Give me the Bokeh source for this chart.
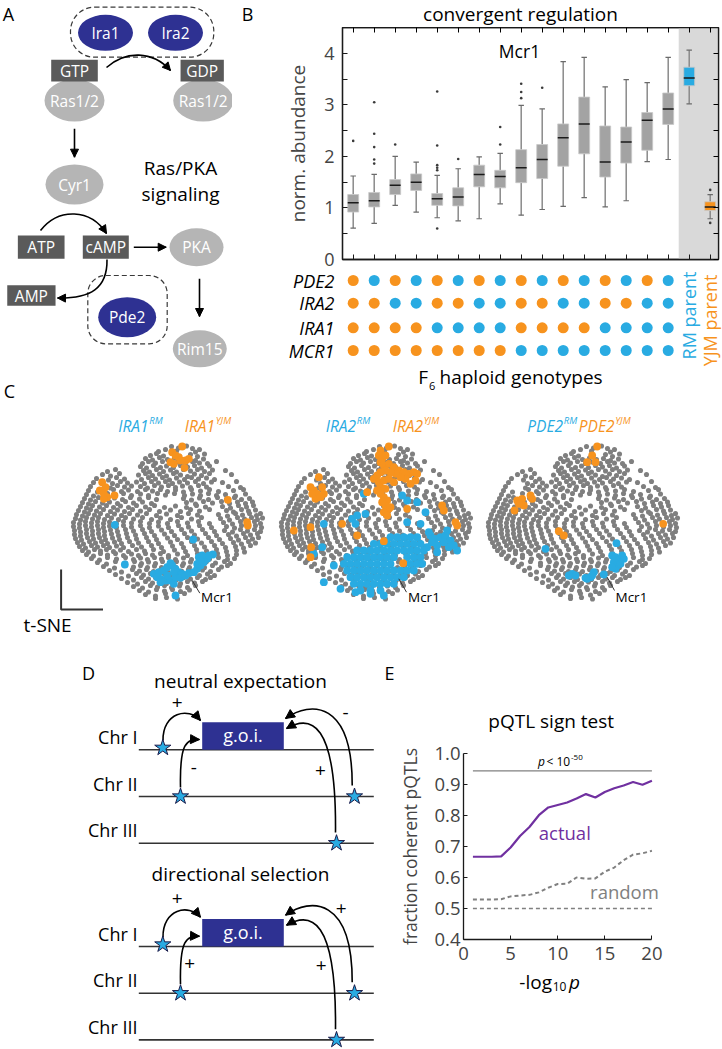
import math
from bokeh.plotting import figure
from bokeh.models import Range1d, Arrow, NormalHead, FixedTicker, LinearAxis, BoxAnnotation
from bokeh.layouts import row, column
from bokeh.embed import file_html
from bokeh.resources import INLINE
from bokeh.core.properties import value

# ======================= DATA =======================
# Panel B: Mcr1 abundance per F6 genotype class (16) + RM parent + YJM parent
BOX_POS = list(range(1, 19))
BOX_GROUP = ["F6"] * 16 + ["RM", "YJM"]
BOX_MED = [1.10, 1.14, 1.44, 1.50, 1.18, 1.21, 1.65, 1.61, 1.78, 1.94, 2.36, 2.63, 1.89, 2.28, 2.70, 2.92, 3.52, 1.02]
BOX_Q1 = [0.92, 1.02, 1.26, 1.34, 1.05, 1.04, 1.41, 1.39, 1.49, 1.57, 1.81, 2.05, 1.60, 1.87, 2.12, 2.62, 3.37, 0.95]
BOX_Q3 = [1.26, 1.30, 1.55, 1.66, 1.28, 1.39, 1.83, 1.73, 2.13, 2.23, 2.63, 3.15, 2.59, 2.57, 2.85, 3.23, 3.73, 1.12]
WHISK_LO = [0.61, 0.70, 1.05, 0.92, 0.81, 0.75, 0.79, 1.08, 0.86, 0.97, 1.03, 1.20, 1.02, 1.14, 1.90, 1.94, 3.02, 0.79]
WHISK_HI = [1.62, 1.65, 2.00, 1.89, 1.63, 1.76, 1.99, 2.06, 2.99, 2.92, 3.84, 3.92, 3.35, 3.49, 3.43, 3.92, 4.06, 1.26]
OUT_X = [1, 2, 2, 2, 2, 2, 3, 5, 5, 5, 5, 5, 5, 6, 8, 8, 9, 9, 9, 10, 18, 18]
OUT_Y = [2.30, 3.05, 2.44, 2.18, 1.94, 1.86, 2.23, 3.26, 2.21, 1.83, 1.78, 1.73, 0.60, 1.95, 2.57, 2.23,
         3.41, 3.25, 3.13, 3.33, 1.35, 0.71]
Y_TICKS = [0, 1, 2, 3, 4]
Y_MINOR = [0.5, 1.5, 2.5, 3.5]
GENO_NAMES = ["PDE2", "IRA2", "IRA1", "MCR1"]
GENO_PDE2 = list("YRYRYRYRYRYRYRYR")
GENO_IRA2 = list("YYRRYYRRYYRRYYRR")
GENO_IRA1 = list("YYYYRRRRYYYYRRRR")
GENO_MCR1 = list("YYYYYYYYRRRRRRRR")

# Panel E: pQTL sign test
E_X = list(range(1, 21))
ACTUAL = [0.667, 0.667, 0.667, 0.668, 0.697, 0.734, 0.763, 0.801, 0.826, 0.834, 0.842, 0.855, 0.869, 0.858,
          0.876, 0.888, 0.897, 0.908, 0.899, 0.912]
RANDOM = [0.529, 0.529, 0.529, 0.530, 0.539, 0.542, 0.544, 0.552, 0.567, 0.579, 0.580, 0.600, 0.596, 0.597,
          0.619, 0.632, 0.656, 0.674, 0.678, 0.686]
CHANCE = 0.5
SIGNIF_LEVEL = 0.944
E_XTICKS = [0, 5, 10, 15, 20]
E_YTICKS = [0.4, 0.5, 0.6, 0.7, 0.8, 0.9, 1.0]

# Panel C: t-SNE embedding, grey cloud (cloud-1 coordinates)
TSNE_PTS = [
    (171, 446), (178, 447.5), (186, 445.5), (192, 448),
    (158, 451), (165, 449), (176, 450.5), (195, 451.5), (199, 449),
    (150, 455), (156, 453), (163, 455.5), (190, 454), (197, 456), (204, 453.5),
    (145, 458), (152, 459.5), (159, 457), (167, 459), (174, 457.5), (181, 459), (188, 458), (195, 460), (203, 458.5),
    (142, 463), (148, 461), (155, 462.5), (162, 461), (170, 463), (177, 461.5), (185, 463), (192, 461), (199, 462.5),
    (207, 463), (216, 461),
    (140, 466), (146, 467.5), (153, 465), (160, 467), (166, 465.5), (173, 467), (180, 465), (187, 466.5), (194, 465),
    (201, 467.5), (209, 465.5),
    (107, 471), (115, 469), (143, 470), (149, 471.5), (156, 469), (163, 471), (170, 469.5), (176, 471.5), (183, 469),
    (190, 470.5), (197, 469), (204, 471), (212, 469.5), (225, 470),
    (102, 474), (110, 475.5), (119, 473), (138, 474.5), (145, 473), (152, 475), (159, 473.5), (166, 475.5),
    (173, 473), (180, 474.5), (187, 476), (194, 473.5), (201, 475), (209, 473), (231, 474),
    (96, 478), (108, 479.5), (116, 477), (124, 478.5), (141, 479), (148, 477), (155, 478.5), (162, 477),
    (169, 479.5), (176, 477.5), (184, 479), (191, 477), (198, 478.5), (206, 477.5), (214, 479),
    (93, 482), (112, 483), (120, 481), (127, 482.5), (136, 481.5), (144, 483), (151, 481), (158, 482.5), (165, 481),
    (172, 483), (179, 481.5), (187, 482.5), (195, 481), (203, 483), (211, 481.5), (222, 482), (236, 481),
    (90, 486), (110, 487.5), (117, 485), (124, 486.5), (131, 485.5), (140, 486), (147, 487.5), (154, 485),
    (161, 486.5), (168, 485), (175, 487), (182, 485.5), (190, 487), (198, 485), (206, 486.5), (228, 486), (240, 487),
    (88, 490), (97, 491.5), (113, 489), (121, 491), (128, 489.5), (137, 491), (145, 489), (152, 490.5), (160, 489),
    (167, 491), (175, 489.5), (183, 491.5), (191, 489), (200, 490.5), (209, 489), (218, 491), (233, 490), (243, 489),
    (86, 494), (93, 495.5), (107, 493), (115, 494.5), (123, 493), (131, 495), (140, 493.5), (148, 495), (157, 493),
    (165, 494.5), (174, 493), (184, 495), (192, 493.5), (200, 495), (208, 493), (216, 495), (225, 494),
    (235, 495.5), (245, 493.5),
    (84, 498), (90, 499.5), (98, 497), (106, 498.5), (114, 497.5), (122, 499), (130, 497), (139, 498.5), (148, 497),
    (156, 499), (183, 498), (191, 499.5), (199, 497.5), (208, 499), (217, 497), (226, 498.5), (234, 497),
    (241, 499), (249, 498),
    (82, 502), (88, 503.5), (95, 501), (102, 502.5), (109, 501.5), (117, 503), (125, 501), (133, 502.5),
    (142, 501.5), (151, 503), (186, 502), (195, 503.5), (203, 501), (212, 502.5), (221, 501), (229, 503),
    (237, 501.5), (245, 503), (252, 501.5),
    (80, 506), (86, 507.5), (92, 505), (99, 506.5), (106, 505), (113, 507), (120, 505.5), (128, 507), (136, 505),
    (145, 506.5), (154, 505), (164, 507), (175, 505.5), (186, 507), (196, 505), (205, 506.5), (222, 506),
    (230, 507.5), (238, 505), (246, 506.5), (253, 505),
    (78, 510), (84, 511.5), (90, 509), (96, 510.5), (103, 509), (110, 511), (117, 509.5), (124, 511), (132, 509),
    (140, 510.5), (149, 509), (159, 511), (170, 509.5), (180, 511), (190, 509), (199, 510.5), (209, 509),
    (226, 510), (233, 511.5), (241, 509), (248, 510.5), (255, 509.5),
    (76, 514), (82, 515.5), (88, 513), (94, 514.5), (100, 513), (107, 515), (114, 513.5), (121, 515), (129, 513),
    (137, 514.5), (146, 513), (156, 515), (166, 513.5), (177, 515), (188, 513), (197, 514.5), (218, 514),
    (227, 515.5), (235, 513), (242, 514.5), (249, 513), (256, 515), (260, 513),
    (75, 518), (80, 519.5), (86, 517), (92, 518.5), (98, 517), (104, 519), (111, 517.5), (118, 519), (125, 517),
    (133, 518.5), (142, 517), (151, 519), (160, 517.5), (170, 519), (181, 517), (191, 518.5), (201, 517),
    (220, 518), (229, 519.5), (237, 517), (244, 518.5), (251, 517), (257, 519), (262, 517.5),
    (73, 522), (79, 523.5), (85, 521), (91, 522.5), (97, 521), (103, 523), (109, 521.5), (116, 523), (123, 521),
    (131, 522.5), (140, 521), (149, 523), (158, 521.5), (167, 523), (177, 521), (187, 522.5), (198, 521),
    (209, 523), (223, 522), (232, 523.5), (240, 521), (247, 522.5), (254, 521), (260, 523),
    (73, 526), (79, 527.5), (85, 525), (91, 526.5), (97, 525), (103, 527), (109, 525.5), (116, 527), (123, 525),
    (131, 526.5), (140, 525), (149, 527), (158, 525.5), (168, 527), (178, 525), (188, 526.5), (199, 525),
    (211, 527), (226, 526), (234, 527.5), (241, 525), (248, 526.5), (255, 525), (261, 527),
    (74, 530), (80, 531.5), (86, 529), (92, 530.5), (98, 529), (104, 531), (110, 529.5), (117, 531), (125, 529),
    (133, 530.5), (142, 529), (151, 531), (161, 529.5), (171, 531), (181, 529), (191, 530.5), (202, 529),
    (214, 531), (224, 530), (232, 531.5), (240, 529), (247, 530.5), (254, 529), (260, 531),
    (74, 534), (80, 535.5), (86, 533), (92, 534.5), (98, 533), (104, 535), (111, 533.5), (118, 535), (126, 533),
    (135, 534.5), (144, 533), (154, 535), (164, 533.5), (174, 535), (184, 533), (194, 534.5), (205, 533),
    (216, 535), (228, 534), (236, 535.5), (243, 533), (250, 534.5), (257, 533),
    (75, 538), (81, 539.5), (87, 537), (93, 538.5), (99, 537), (105, 539), (112, 537.5), (119, 539), (127, 537),
    (136, 538.5), (146, 537), (156, 539), (167, 537.5), (177, 539), (187, 537), (197, 538.5), (208, 537),
    (219, 539), (230, 538), (238, 539.5), (245, 537), (252, 538.5), (258, 537),
    (77, 542), (83, 543.5), (89, 541), (95, 542.5), (101, 541), (107, 543), (114, 541.5), (121, 543), (129, 541),
    (138, 542.5), (148, 541), (158, 543), (170, 541.5), (181, 543), (191, 541), (201, 542.5), (211, 541),
    (222, 543), (233, 542), (241, 543.5), (248, 541), (255, 542.5),
    (79, 546), (85, 547.5), (91, 545), (97, 546.5), (103, 545), (109, 547), (116, 545.5), (123, 547), (132, 545),
    (141, 546.5), (151, 545), (161, 547), (172, 545.5), (183, 547), (194, 545), (204, 546.5), (214, 545),
    (225, 547), (235, 546), (243, 547.5), (250, 545),
    (82, 550), (88, 551.5), (94, 549), (100, 550.5), (106, 549), (113, 551), (120, 549.5), (128, 551), (136, 549),
    (144, 550.5), (153, 549), (163, 551), (174, 549.5), (185, 551), (196, 549), (206, 550.5), (216, 549),
    (226, 551), (236, 550), (244, 551.5),
    (86, 554), (93, 555.5), (100, 553), (107, 554.5), (115, 553), (123, 555), (131, 553.5), (138, 555), (145, 553),
    (152, 554.5), (160, 553), (168, 555), (177, 553.5), (187, 555), (197, 553), (207, 554.5), (217, 553),
    (227, 555), (236, 554),
    (91, 558), (99, 559.5), (107, 557), (116, 558.5), (125, 557), (133, 559), (140, 557.5), (147, 559), (154, 557),
    (161, 558.5), (168, 557), (175, 559), (183, 557.5), (191, 559), (200, 557), (209, 558.5), (218, 557),
    (227, 559), (234, 558),
    (97, 562), (106, 563.5), (115, 561), (125, 562.5), (134, 561), (141, 563), (148, 561.5), (155, 563), (162, 561),
    (169, 562.5), (176, 561), (183, 563), (190, 561.5), (198, 563), (206, 561), (215, 562.5), (224, 561), (230, 563),
    (103, 566), (114, 567.5), (125, 565), (133, 566.5), (140, 565), (147, 567), (154, 565.5), (161, 567), (168, 565),
    (175, 566.5), (182, 565), (189, 567), (196, 565.5), (204, 567), (212, 565), (221, 566.5), (227, 565),
    (109, 570), (121, 571.5), (132, 569), (139, 570.5), (146, 569), (153, 571), (160, 569.5), (167, 571), (174, 569),
    (181, 570.5), (188, 569), (195, 571), (202, 569.5), (210, 571), (218, 569),
    (115, 574), (128, 575.5), (136, 573), (143, 574.5), (150, 573), (157, 575), (164, 573.5), (171, 575), (178, 573),
    (185, 574.5), (192, 573), (199, 575), (207, 573.5), (214, 575),
    (121, 578), (133, 579.5), (141, 577), (148, 578.5), (155, 577), (162, 579), (169, 577.5), (176, 579), (183, 577),
    (190, 578.5), (197, 577), (205, 579), (210, 577),
    (127, 582), (137, 583.5), (145, 581), (152, 582.5), (159, 581), (166, 583), (173, 581.5), (180, 583), (187, 581),
    (194, 582.5), (202, 581),
    (133, 586), (142, 587.5), (150, 585), (157, 586.5), (164, 585), (171, 587), (179, 585.5), (187, 587), (195, 585),
    (139, 590), (148, 591.5), (156, 589), (164, 590.5), (172, 589), (180, 591), (189, 589.5),
    (145, 594), (155, 595.5), (165, 593), (175, 594.5), (184, 593),
    (155, 598), (166, 597), (177, 598.5),
]
# highlighted strains (t-SNE coords, 3x local units per panel)
ORANGE_1 = [(365, 18), (335, 35), (345, 45), (355, 50), (330, 65), (340, 70), (360, 60), (375, 60), (385, 55),
            (372, 82), (125, 125), (135, 140), (118, 150), (130, 160), (140, 170), (130, 175), (162, 165),
            (502, 178), (560, 245), (562, 255)]
BLUE_1 = [(163, 253), (398, 297), (193, 372), (457, 342), (345, 465), (280, 400), (295, 395), (310, 390),
          (320, 380), (335, 375), (345, 385), (355, 395), (365, 400), (300, 415), (315, 420), (330, 420),
          (345, 410), (360, 412), (375, 405), (290, 410), (320, 405), (340, 395), (385, 398), (400, 395),
          (410, 385), (420, 375), (430, 365), (440, 355), (415, 350), (425, 345), (445, 345), (410, 370),
          (420, 360), (300, 425), (340, 430), (330, 368)]
ORANGE_2 = [(325, 18), (300, 30), (295, 45), (305, 55), (315, 45), (300, 65), (310, 75), (325, 70), (340, 80),
            (355, 90), (370, 95), (385, 100), (400, 95), (410, 100), (405, 120), (390, 130), (375, 115),
            (360, 110), (345, 100), (330, 95), (315, 90), (300, 95), (290, 105), (280, 115), (295, 125),
            (310, 120), (325, 115), (340, 125), (300, 140), (315, 145), (290, 150), (300, 160), (310, 170),
            (320, 180), (315, 195), (325, 205), (310, 215), (320, 225), (330, 200), (305, 185), (260, 155),
            (380, 205), (485, 195), (490, 210), (525, 245), (530, 255), (115, 110), (90, 140), (100, 150),
            (110, 160), (125, 140), (130, 160), (105, 175), (95, 160), (120, 170), (40, 270), (90, 260),
            (92, 320), (90, 350), (185, 250), (230, 285), (310, 302), (368, 368)]
BLUE_2 = [(130, 250), (125, 320), (100, 340), (160, 375), (130, 425), (180, 445), (225, 455), (270, 460),
          (310, 465), (250, 160), (215, 235), (230, 225), (255, 220), (225, 250), (380, 180), (410, 185),
          (435, 215), (380, 245), (420, 250), (365, 165), (450, 285), (465, 295), (480, 290), (495, 285),
          (510, 300), (520, 315), (505, 320), (490, 305), (470, 315), (455, 305), (445, 275), (500, 270),
          (530, 330), (470, 335), (440, 320)]
BLUE_2_ROWS = [
    (290, [330, 350, 370, 390, 410]),
    (310, [280, 300, 320, 340, 360, 380, 400, 420]),
    (330, [230, 250, 270, 290, 310, 330, 350, 370, 390, 410, 430]),
    (350, [200, 220, 240, 260, 280, 300, 320, 340, 380, 400, 420]),
    (370, [190, 210, 230, 250, 270, 290, 310, 330, 390, 410, 425]),
    (390, [200, 220, 240, 260, 280, 300, 320, 340, 360, 380, 400]),
    (410, [210, 230, 250, 270, 290, 310, 330, 350, 370]),
    (430, [220, 240, 260, 280, 300, 320, 340]),
    (450, [240, 270, 300]),
]
ORANGE_3 = [(320, 18), (305, 45), (290, 65), (315, 65), (80, 180), (95, 175), (100, 195), (85, 190), (120, 165),
            (125, 175), (72, 210), (205, 272), (220, 285), (518, 250)]
BLUE_3 = [(165, 325), (378, 308), (365, 345), (375, 350), (385, 360), (395, 345), (400, 355), (370, 365),
          (380, 375), (375, 385), (365, 380), (390, 370), (340, 402), (310, 395), (300, 410), (290, 415),
          (305, 405), (245, 400), (255, 405), (235, 405), (285, 412)]

# ======================= STYLE =======================
FONT = "Open Sans"
NAVY = "#2e3192"
BLUE = "#29abe2"
ORANGE = "#f7931e"
DARKBOX = "#5a5a5a"
LIGHTELL = "#b5b5b5"
GREY = "#808080"
PURPLE = "#7030a0"
INK = "#1a1a1a"


def fs(v):
    return f"{v:.1f}px"


def no_align(p):
    try:
        p.frame_align = False
    except Exception:
        pass
    return p


def canvas(w, h, x0, y0):
    p = figure(width=w, height=h, x_range=Range1d(x0, x0 + w), y_range=Range1d(y0 + h, y0),
               output_backend="svg", toolbar_location=None, x_axis_type=None, y_axis_type=None, min_border=0)
    p.outline_line_color = None
    p.background_fill_color = "white"
    p.border_fill_color = "white"
    return no_align(p)


def txt(p, x, y, t, size, color="black", align="center", baseline="middle", style="normal", angle=0.0):
    p.text(x=[x], y=[y], text=[t], text_font=value(FONT), text_font_size=value(fs(size)), text_color=color,
           text_align=align, text_baseline=baseline, text_font_style=style, angle=angle)


def head(p, xs, ys, xe, ye, size=8.0):
    d = math.hypot(xe - xs, ye - ys)
    ux, uy = (xe - xs) / d, (ye - ys) / d
    p.add_layout(Arrow(end=NormalHead(size=size, fill_color="black", line_color="black", line_width=1),
                       x_start=xe - ux * 0.6, y_start=ye - uy * 0.6, x_end=xe, y_end=ye,
                       line_color="black", line_width=1))


def curve(p, P0, P1, P2, P3, w=1.6, size=8.0):
    p.bezier(x0=[P0[0]], y0=[P0[1]], x1=[P3[0]], y1=[P3[1]], cx0=[P1[0]], cy0=[P1[1]],
             cx1=[P2[0]], cy1=[P2[1]], line_color="black", line_width=w)
    head(p, P2[0], P2[1], P3[0], P3[1], size)


def straight(p, x0, y0, x1, y1, w=1.6, size=8.0):
    p.segment(x0=[x0], y0=[y0], x1=[x1], y1=[y1], line_color="black", line_width=w)
    head(p, x0, y0, x1, y1, size)


def dashed_box(p, l, r, t, b, radius):
    kw = dict(left=[l], right=[r], top=[t], bottom=[b], fill_color=None, line_color="#3a3a3a",
              line_dash="5 3", line_width=1.2)
    try:
        p.quad(border_radius=radius, **kw)
    except Exception:
        p.quad(**kw)


# ======================= PANEL A (+ "C" label) =======================
TOP_H = 404
A = canvas(232, TOP_H, 0, 0)
txt(A, 8, 13, "A", 18)
txt(A, 9, 390, "C", 18)
dashed_box(A, 70, 213.3, 6.7, 56.7, 24)
dashed_box(A, 87.3, 166.7, 275, 343.3, 18)
A.ellipse(x=[74, 202.7, 74, 196, 199.3], y=[100, 100, 184, 246.7, 348.3], width=[60, 60, 58, 54, 54],
          height=[42, 42, 40, 38, 37], fill_color=LIGHTELL, line_color=None)
A.ellipse(x=[105, 175, 126.7], y=[32.3, 32.3, 316.7], width=[55, 55, 58], height=[36, 36, 40],
          fill_color=NAVY, line_color=None)
A.rect(x=[74, 201.7, 40.7, 105.3, 30.9], y=[70.2, 70.2, 246.7, 246.7, 295],
       width=[46.6, 43.3, 46.7, 46, 48.3], height=[21.7, 21.7, 23.3, 23.3, 20.5],
       fill_color=DARKBOX, line_color=None)
for (x, y, t) in [(105, 32.3, "Ira1"), (175, 32.3, "Ira2"), (74, 70.2, "GTP"), (201.7, 70.2, "GDP"),
                  (74, 100, "Ras1/2"), (202.7, 100, "Ras1/2"), (74, 184, "Cyr1"), (40.7, 246.7, "ATP"),
                  (105.3, 246.7, "cAMP"), (196, 246.7, "PKA"), (30.9, 295, "AMP"), (126.7, 316.7, "Pde2"),
                  (199.3, 348.3, "Rim15")]:
    txt(A, x, y, t, 15.5, color="white")
txt(A, 180, 167, "Ras/PKA", 19)
txt(A, 180, 193.5, "signaling", 19)
curve(A, (106, 67), (125, 50), (152, 50), (170, 70))
curve(A, (40, 230), (58, 207), (90, 208), (106, 233))
curve(A, (106.5, 259), (107, 288), (90, 298), (57, 297.5))
straight(A, 74, 128.3, 74, 156.7)
straight(A, 133.3, 246.7, 165.7, 246.7)
straight(A, 199, 278.3, 199, 316)

# ======================= PANEL B =======================
BW = 490
BT_H = 27
BH = 241
GH = TOP_H - BT_H - BH
BL, BR, BTOP, BBOT = 110, 4, 0, 9
UB = 21.0
XS0 = 1 - (352.7 - (232 + BL)) / UB
XE0 = XS0 + (BW - BL - BR) / UB
Y_TOP = 4.5
PXY = (BH - BTOP - BBOT) / Y_TOP


def bx(refx):
    return XS0 + (refx - (232 + BL)) / UB


def by(refy):
    return (259 - refy) / PXY


BTi = canvas(BW, BT_H, 232, 0)
txt(BTi, 247, 13, "B", 18)
txt(BTi, 520, 13, "convergent regulation", 19)

B = figure(width=BW, height=BH, x_range=Range1d(XS0, XE0), y_range=Range1d(0, Y_TOP), output_backend="svg",
           toolbar_location=None, min_border_left=BL, min_border_right=BR, min_border_top=BTOP,
           min_border_bottom=BBOT)
no_align(B)
B.grid.visible = False
B.outline_line_color = INK
B.outline_line_width = 1.3
B.background_fill_color = "white"
B.yaxis.ticker = FixedTicker(ticks=Y_TICKS, minor_ticks=Y_MINOR)
B.yaxis.major_label_text_font = FONT
B.yaxis.major_label_text_font_size = fs(18)
B.yaxis.major_label_standoff = 8
B.yaxis.axis_label = "norm. abundance"
B.yaxis.axis_label_text_font = FONT
B.yaxis.axis_label_text_font_size = fs(19)
B.yaxis.axis_label_text_font_style = "normal"
B.yaxis.axis_label_standoff = 10
B.xaxis.ticker = FixedTicker(ticks=BOX_POS)
B.xaxis.major_label_overrides = {int(t): "" for t in BOX_POS}
B.xaxis.major_label_text_font_size = "0px"
B.xaxis.major_label_standoff = 0
for ax in (B.xaxis, B.yaxis):
    ax.major_tick_in = 5
    ax.major_tick_out = 0
    ax.minor_tick_in = 5
    ax.minor_tick_out = 0
    ax.axis_line_color = INK
    ax.axis_line_width = 1.3
    ax.major_tick_line_color = INK
    ax.minor_tick_line_color = INK
B.add_layout(LinearAxis(ticker=FixedTicker(ticks=Y_TICKS, minor_ticks=Y_MINOR),
                        major_label_overrides={t: "" for t in Y_TICKS}, major_label_text_font_size="0px",
                        major_label_standoff=0, major_tick_in=5, major_tick_out=0, minor_tick_in=5,
                        minor_tick_out=0, axis_line_color=INK, axis_line_width=1.3), "right")
B.add_layout(LinearAxis(ticker=FixedTicker(ticks=BOX_POS),
                        major_label_overrides={int(t): "" for t in BOX_POS}, major_label_text_font_size="0px",
                        major_label_standoff=0, major_tick_in=5, major_tick_out=0, minor_tick_line_color=None,
                        axis_line_color=INK, axis_line_width=1.3), "above")
B.add_layout(BoxAnnotation(left=16.5, fill_color="#d9d9d9", fill_alpha=1.0, line_color=None, level="underlay"))
box_fill = [{"F6": "#a3a3a3", "RM": BLUE, "YJM": ORANGE}[g] for g in BOX_GROUP]
half_box = 0.26
cap = 0.13
B.segment(x0=BOX_POS, y0=BOX_Q3, x1=BOX_POS, y1=WHISK_HI, line_color="#8a8a8a", line_width=1.5)
B.segment(x0=BOX_POS, y0=WHISK_LO, x1=BOX_POS, y1=BOX_Q1, line_color="#8a8a8a", line_width=1.5)
B.segment(x0=[x - cap for x in BOX_POS], y0=WHISK_HI, x1=[x + cap for x in BOX_POS], y1=WHISK_HI,
          line_color="#6a6a6a", line_width=1.2)
B.segment(x0=[x - cap for x in BOX_POS], y0=WHISK_LO, x1=[x + cap for x in BOX_POS], y1=WHISK_LO,
          line_color="#6a6a6a", line_width=1.2)
B.vbar(x=BOX_POS, width=2 * half_box, top=BOX_Q3, bottom=BOX_Q1, fill_color=box_fill, line_color="#c8c8c8",
       line_width=0.8)
B.segment(x0=[x - half_box for x in BOX_POS], y0=BOX_MED, x1=[x + half_box for x in BOX_POS], y1=BOX_MED,
          line_color=INK, line_width=1.5)
B.scatter(x=OUT_X, y=OUT_Y, size=2.6, color="#3a3a3a", line_color=None)
txt(B, bx(519), by(50), "Mcr1", 17.5)

# genotype matrix below the box plot
G = figure(width=BW, height=GH, x_range=Range1d(XS0 - BL / UB, XE0 + BR / UB),
           y_range=Range1d(-(268 + GH), -268), output_backend="svg", toolbar_location=None,
           x_axis_type=None, y_axis_type=None, min_border=0)
no_align(G)
G.outline_line_color = None
geno_rows = [GENO_PDE2, GENO_IRA2, GENO_IRA1, GENO_MCR1]
row_y = [280.0, 302.7, 327.3, 350.0]
for name, g, ry in zip(GENO_NAMES, geno_rows, row_y):
    G.scatter(x=BOX_POS[:16], y=[-ry] * 16, size=11,
              color=[ORANGE if c == "Y" else BLUE for c in g], line_color=None)
    txt(G, bx(334), -ry, name, 18, align="right", style="italic")
txt(G, 17, -315, "RM parent", 18, color=BLUE, angle=math.pi / 2)
txt(G, 18, -320, "YJM parent", 18, color=ORANGE, angle=math.pi / 2)
txt(G, bx(427.5), -376, "F", 19, align="right")
txt(G, bx(428.5), -385, "6", 11, align="left")
txt(G, bx(439), -376, "haploid genotypes", 19, align="left")

# ======================= PANEL C =======================
C = canvas(722, 650 - TOP_H, 0, TOP_H)
DX = [0, 208, 415]
ZORIG = [(60, 440), (280, 440), (490, 440)]
gxs = [p_[0] for p_ in TSNE_PTS]
gys = [p_[1] for p_ in TSNE_PTS]
blue2_full = BLUE_2 + [(x, y) for (y, xs_) in BLUE_2_ROWS for x in xs_]
highlight = [(ORANGE_1, BLUE_1), (ORANGE_2, blue2_full), (ORANGE_3, BLUE_3)]
for k in range(3):
    C.scatter(x=[x + DX[k] for x in gxs], y=gys, size=5.1, color="#7f7f7f", line_color=None)
    ox, oy = ZORIG[k]
    ob, bb = highlight[k]
    C.scatter(x=[ox + zx / 3 for zx, zy in bb], y=[oy + zy / 3 for zx, zy in bb], size=7.8, color=BLUE,
              line_color=None)
    C.scatter(x=[ox + zx / 3 for zx, zy in ob], y=[oy + zy / 3 for zx, zy in ob], size=7.8, color=ORANGE,
              line_color=None)
leaders = [((191.7, 580), (199.3, 592.7), 200.5), ((398.3, 578.3), (406, 591.7), 407.5),
           ((606.7, 576.7), (614, 590), 615)]
for (a, b, tx) in leaders:
    C.segment(x0=[a[0]], y0=[a[1]], x1=[b[0]], y1=[b[1]], line_color="#333333", line_width=1)
    txt(C, tx, 596.5, "Mcr1", 13.5, align="left")
titles = [("IRA1", 148, 214.5), ("IRA2", 355.5, 422.5), ("PDE2", 562.5, 614)]
for gene, xb, xo in titles:
    txt(C, xb, 425, gene, 15.5, color=BLUE, align="right", style="italic")
    txt(C, xb + 0.8, 419.5, "RM", 9.5, color=BLUE, align="left", style="italic")
    txt(C, xo, 425, gene, 15.5, color=ORANGE, align="right", style="italic")
    txt(C, xo + 0.8, 419.5, "YJM", 9.5, color=ORANGE, align="left", style="italic")
C.line(x=[60.6, 60.6, 102.5], y=[569, 609, 609], line_color="#333333", line_width=2)
txt(C, 23, 624, "t-SNE", 19, align="left")

# ======================= PANEL D =======================
D = canvas(395, 398, 0, 650)
txt(D, 88, 672, "D", 18)
txt(D, 389, 672, "E", 18)
for k, title in [(0.0, "neutral expectation"), (196.7, "directional selection")]:
    txt(D, 240, 680 + k * 0.982, title, 19)
    for ly, name in [(749.3, "Chr I"), (796, "Chr II"), (842.7, "Chr III")]:
        D.segment(x0=[138.3], y0=[ly + k], x1=[373.3], y1=[ly + k], line_color="#333333", line_width=1.6)
        txt(D, 137, ly + k - 13, name, 18, align="right")
    D.rect(x=[242.5], y=[735.5 + k], width=[81.6], height=[27.6], fill_color=NAVY, line_color=None)
    txt(D, 242.5, 734.5 + k, "g.o.i.", 18, color="white")
    curve(D, (162.5, 740 + k), (162, 712 + k), (188, 706 + k), (200, 720 + k), size=9)
    curve(D, (180, 787 + k), (179, 742 + k), (186, 738.5 + k), (199, 739 + k), size=9)
    curve(D, (351.7, 785 + k), (352, 700 + k), (310, 700 + k), (285, 718 + k), size=9)
    curve(D, (335, 832 + k), (336, 720 + k), (310, 714 + k), (286, 728 + k), size=9)
    D.scatter(x=[162.3, 180, 354, 336], y=[747.3 + k, 796 + k, 796 + k, 842.7 + k], marker="star",
              size=17, fill_color=BLUE, line_color="#1b1b4a", line_width=1)
signs = [(176.7, 701.7, "+"), (345, 711.7, "-"), (193.3, 766.7, "-"), (320, 770, "+"),
         (176.7, 898.4, "+"), (340.7, 908.3, "+"), (189.3, 963.3, "+"), (320.7, 965, "+")]
for x, y, t in signs:
    txt(D, x, y, t, 19)

# ======================= PANEL E =======================
EW = 327
ET_H, EP_H, EB_H = 89, 228, 81
EL, ER, ETOP, EBOT = 68, 59, 14, 28
E_TOP_Y = 650 + ET_H
E_XMAX = 21.23
PXE = (EW - EL - ER) / E_XMAX
PYE = (EP_H - ETOP - EBOT) / 0.6


def ex(refx):
    return (refx - (395 + EL)) / PXE


def ey(refy):
    return 0.4 + ((E_TOP_Y + EP_H - EBOT) - refy) / PYE


ETi = canvas(EW, ET_H, 395, 650)
txt(ETi, 550.7, 720, "pQTL sign test", 19)

E = figure(width=EW, height=EP_H, x_range=Range1d(0, E_XMAX), y_range=Range1d(0.4, 1.0), output_backend="svg",
           toolbar_location=None, min_border_left=EL, min_border_right=ER, min_border_top=ETOP,
           min_border_bottom=EBOT)
no_align(E)
E.grid.visible = False
E.outline_line_color = None
E.background_fill_color = "white"
E.xaxis.ticker = FixedTicker(ticks=E_XTICKS)
E.yaxis.ticker = FixedTicker(ticks=E_YTICKS)
E.xaxis.bounds = (0, 20)
E.yaxis.major_label_overrides = {t: f"{t:.1f}" for t in E_YTICKS}
E.xaxis.major_label_standoff = 7
E.yaxis.major_label_standoff = 3
E.yaxis.axis_label = "fraction coherent pQTLs"
E.yaxis.axis_label_text_font = FONT
E.yaxis.axis_label_text_font_size = fs(17.5)
E.yaxis.axis_label_text_font_style = "normal"
E.yaxis.axis_label_standoff = 9
for ax in (E.xaxis, E.yaxis):
    ax.major_label_text_font = FONT
    ax.major_label_text_font_size = fs(18.5)
    ax.major_tick_in = 4
    ax.major_tick_out = 0
    ax.minor_tick_line_color = None
    ax.axis_line_color = INK
    ax.axis_line_width = 1.3
    ax.major_tick_line_color = INK
E.line(x=[E_X[0], E_X[-1]], y=[SIGNIF_LEVEL, SIGNIF_LEVEL], line_color=GREY, line_width=1.4)
E.line(x=[E_X[0], E_X[-1]], y=[CHANCE, CHANCE], line_color=GREY, line_width=1.5, line_dash="4 3")
E.line(x=E_X, y=RANDOM, line_color=GREY, line_width=2, line_dash="4 3")
E.line(x=E_X, y=ACTUAL, line_color=PURPLE, line_width=2.2)
txt(E, ex(537.5), ey(761), "p", 12, align="left", style="italic")
txt(E, ex(546), ey(761), "< 10", 12, align="left")
txt(E, ex(570.5), ey(756.5), "-50", 8, align="left")
txt(E, ex(564.3), ey(831.7), "actual", 18.5, color=PURPLE)
txt(E, ex(624), ey(891), "random", 18.5, color=GREY)

EBi = canvas(EW, EB_H, 395, 967)
txt(EBi, 551.5, 981.5, "-log", 19, align="right", baseline="alphabetic")
txt(EBi, 552.2, 985.5, "10", 12, align="left", baseline="alphabetic")
txt(EBi, 568.5, 981.5, "p", 19, align="left", baseline="alphabetic", style="italic")

# ======================= LAYOUT =======================
layout = column(row(A, column(BTi, B, G)), C, row(D, column(ETi, E, EBi)))
open("out.html", "w").write(file_html(layout, INLINE))
